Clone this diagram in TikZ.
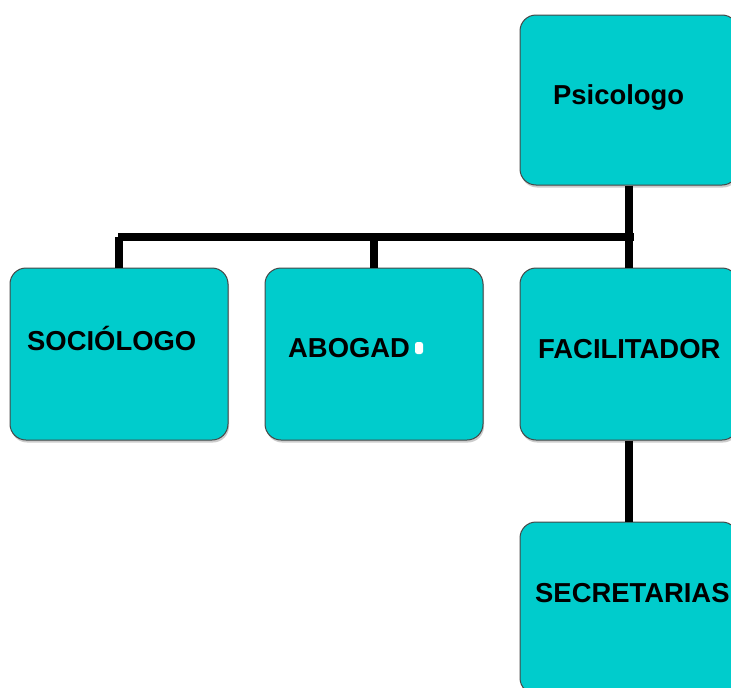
\documentclass[tikz,border=0pt]{standalone}
\usepackage{fontspec}
\setmainfont{Liberation Sans}
\usepackage{tikz}
\usetikzlibrary{shadows}
\definecolor{boxcyan}{RGB}{0,204,204}
\definecolor{boxedge}{RGB}{70,70,70}
\newcommand*{\cargo}[1]{\fontsize{27.4}{31}\selectfont\bfseries #1}

\begin{document}
\begin{tikzpicture}[x=1pt, y=-1pt,
    puesto/.style={rectangle, rounded corners=16pt, draw=boxedge, line width=1pt,
      fill=boxcyan, minimum width=218pt, minimum height=172pt, inner sep=0pt,
      drop shadow={shadow xshift=1pt, shadow yshift=-2.5pt, fill=gray!80}},
    rotulo/.style={anchor=base west, inner sep=0pt, text=black},
    linea/.style={line width=7.5pt, black}]
      \useasboundingbox (0,0) rectangle (731,688);
      \clip (0,0) rectangle (731,688);

      \node[puesto, minimum height=170pt] (psico) at (629,100) {};
      \foreach \i/\x in {soc/119, abog/374, facil/629}
      {
        \node[puesto] (\i) at (\x,354) {};
      }
      \node[puesto] (secr) at (629,608) {};

      \node[rotulo] (psicoT) at (553,104) {\cargo{Psicologo}};
      \node[rotulo] (socT) at (27,350) {\cargo{SOCIÓLOGO}};
      \node[rotulo] (abogT) at (288,357) {\cargo{ABOGAD}};
      \node[rectangle, rounded corners=2.5pt, fill=white, minimum width=8pt,
        minimum height=12pt, inner sep=0pt] (punto) at (419,348) {};
      \node[rotulo] (facilT) at (538,358) {\cargo{FACILITADOR}};
      \node[rotulo] (secrT) at (535,602) {\cargo{SECRETARIAS}};

      \coordinate (barL) at (118,237);
      \coordinate (barR) at (634,237);

      \draw[linea]
        (psico.south) -- (psico.south |- barR)
        (barL) -- (barR);

      \draw[linea]
        (soc.north |- barL) -- (soc.north)
        (abog.north |- barL) -- (abog.north)
        (facil.north |- barR) -- (facil.north)
        (facil.south) -- (secr.north);
\end{tikzpicture}
\end{document}
